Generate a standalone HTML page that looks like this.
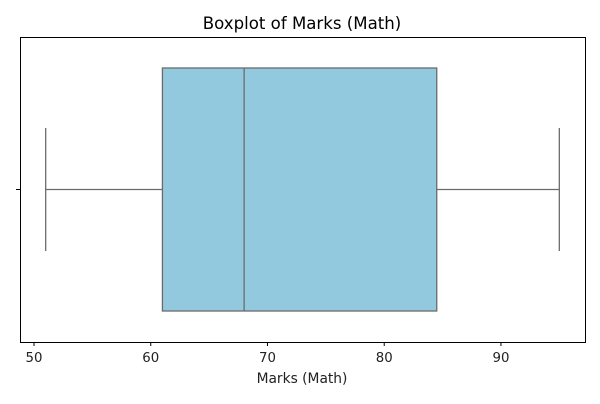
<!DOCTYPE html>
<html><head><meta charset="utf-8"><style>
body{margin:0;background:#fff;font-family:"DejaVu Sans","Liberation Sans",sans-serif}
</style></head><body>
<svg width="600" height="400" xmlns="http://www.w3.org/2000/svg">
<text x="302" y="29" font-size="16.6" text-anchor="middle" fill="#000">Boxplot of Marks (Math)</text>
<g id="ticks"></g>
<g id="marks"></g>
<rect x="20.5" y="37.5" width="565" height="305" fill="none" stroke="#000" stroke-width="1"/>
<line x1="16" y1="189.5" x2="20" y2="189.5" stroke="#000"/>
<text x="302" y="383" font-size="13.8" text-anchor="middle" fill="#222">Marks (Math)</text>
</svg>
<script>
const stats=[51,61,68,84.5,95]; // min,q1,median,q3,max
const tickValues=[50,60,70,80,90];
const xMin=48.8,xMax=97.2;
function sx(v){return 20+(v-xMin)/(xMax-xMin)*565;}
const NS="http://www.w3.org/2000/svg";
function mk(tag,attrs,parent){const e=document.createElementNS(NS,tag);for(const k in attrs)e.setAttribute(k,attrs[k]);parent.appendChild(e);return e;}
const tg=document.getElementById('ticks');
tickValues.forEach(t=>{
 const l=mk('line',{x1:sx(t),x2:sx(t),y1:342,y2:346,stroke:'#000'},tg);
 
 
 const tx=mk('text',{x:sx(t),y:362,'font-size':13.3,'text-anchor':'middle',fill:'#222'},tg);
 tx.textContent=t;
 
 
});
const g=document.getElementById('marks');
const c='#6b6b6b';
const [mn,q1,md,q3,mx]=stats;
let e;
e=mk('line',{x1:sx(mn),x2:sx(q1),y1:189.5,y2:189.5,stroke:c,'stroke-width':1.3},g);


e=mk('line',{x1:sx(q3),x2:sx(mx),y1:189.5,y2:189.5,stroke:c,'stroke-width':1.3},g);


e=mk('line',{x1:sx(mn),x2:sx(mn),y1:128,y2:251,stroke:c,'stroke-width':1.3},g);


e=mk('line',{x1:sx(mx),x2:sx(mx),y1:128,y2:251,stroke:c,'stroke-width':1.3},g);


e=mk('rect',{x:sx(q1),y:68,width:sx(q3)-sx(q1),height:243,fill:'#93c9df',stroke:c,'stroke-width':1.3},g);


e=mk('line',{x1:sx(md),x2:sx(md),y1:68,y2:311,stroke:c,'stroke-width':1.3},g);


</script>
</body></html>
